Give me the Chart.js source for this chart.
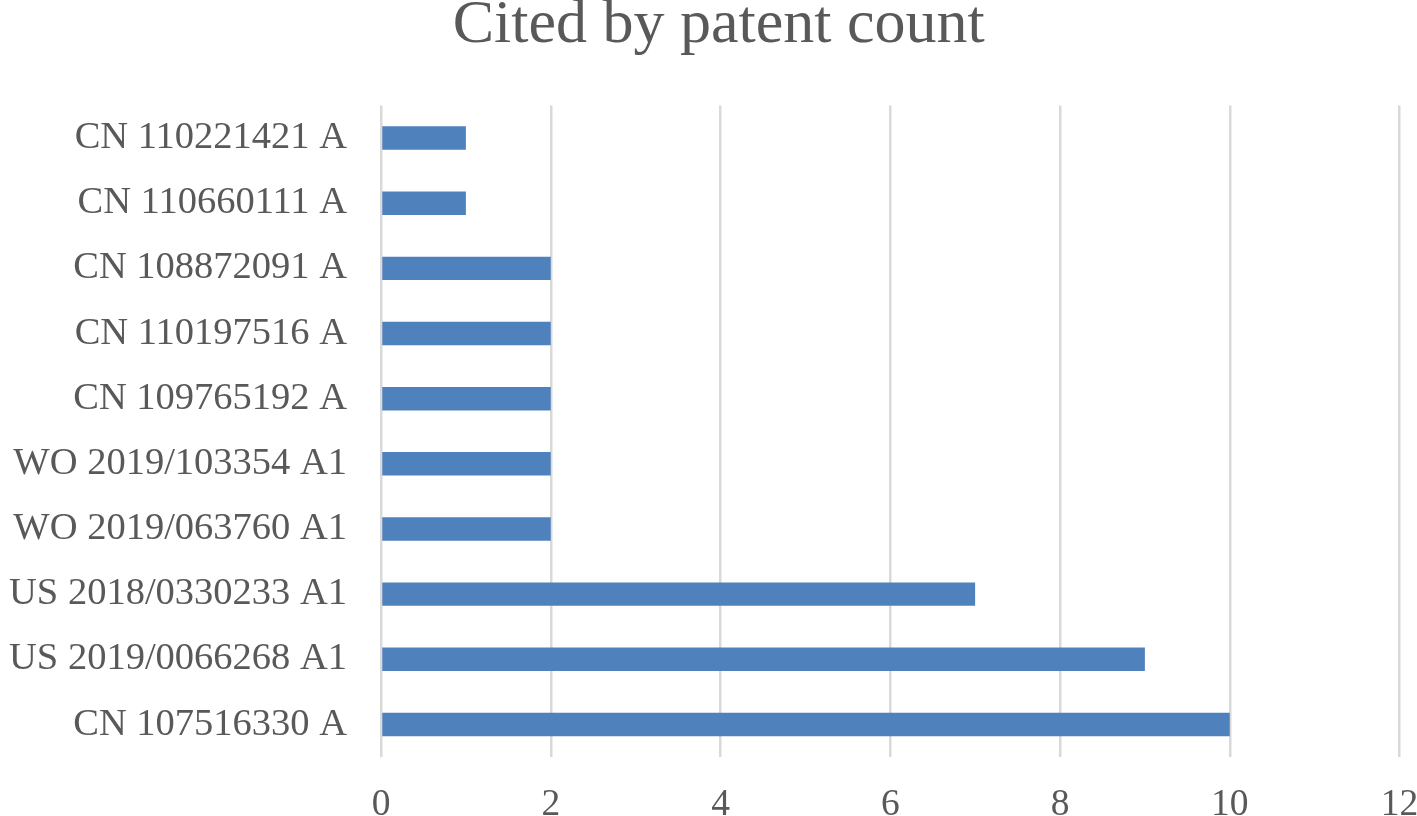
<!DOCTYPE html>
<html>
<head>
<meta charset="utf-8">
<script src="https://cdn.jsdelivr.net/npm/chart.js@4"></script>
<style>
html,body{margin:0;padding:0;background:#fff;}
#wrap{width:1417px;height:816px;}
</style>
</head>
<body>
<div id="wrap"><canvas id="c" width="1417" height="816"></canvas></div>
<script>
const categories = [
  "CN 110221421 A",
  "CN 110660111 A",
  "CN 108872091 A",
  "CN 110197516 A",
  "CN 109765192 A",
  "WO 2019/103354 A1",
  "WO 2019/063760 A1",
  "US 2018/0330233 A1",
  "US 2019/0066268 A1",
  "CN 107516330 A"
];
const citedCounts = [1, 1, 2, 2, 2, 2, 2, 7, 9, 10];
const xTickMin = 0;
const xTickMax = 12;
const xTickStep = 2;

const FONT = "'Liberation Serif', 'Times New Roman', serif";
const TEXT = "#595959";

const titleShift = {
  id: 'titleShift',
  afterLayout(chart) {
    const t = chart.titleBlock;
    if (t) { t.left += 38; }
  }
};

new Chart(document.getElementById('c'), {
  type: 'bar',
  data: {
    labels: categories,
    datasets: [{
      label: 'Cited by patent count',
      data: citedCounts,
      backgroundColor: '#4F81BD',
      borderWidth: 0,
      categoryPercentage: 1,
      barPercentage: 0.36
    }]
  },
  plugins: [titleShift],
  options: {
    indexAxis: 'y',
    responsive: false,
    animation: false,
    devicePixelRatio: 1,
    layout: { padding: { left: 0, right: 17.5, top: 0, bottom: 0 } },
    plugins: {
      legend: { display: false },
      tooltip: { enabled: false },
      title: {
        display: true,
        text: 'Cited by patent count',
        color: TEXT,
        font: { family: FONT, size: 62, weight: 'normal', lineHeight: 0.8 },
        padding: { top: 1, bottom: 54.9 }
      }
    },
    scales: {
      x: {
        min: xTickMin,
        max: xTickMax,
        ticks: {
          stepSize: xTickStep,
          color: TEXT,
          font: { family: FONT, size: 37.5 },
          padding: 26
        },
        grid: { color: '#D9D9D9', lineWidth: 2.5, drawTicks: false },
        border: { display: false },
        afterFit: function(s) { s.height = 59; s.paddingLeft = 0; s.paddingRight = 0; }
      },
      y: {
        ticks: {
          color: TEXT,
          font: { family: FONT, size: 38.5 },
          padding: 34,
          autoSkip: false
        },
        grid: { display: false, drawTicks: false },
        border: { display: false },
        afterFit: function(s) { s.width = 381; s.paddingTop = 0; s.paddingBottom = 0; }
      }
    }
  }
});
</script>
</body>
</html>
